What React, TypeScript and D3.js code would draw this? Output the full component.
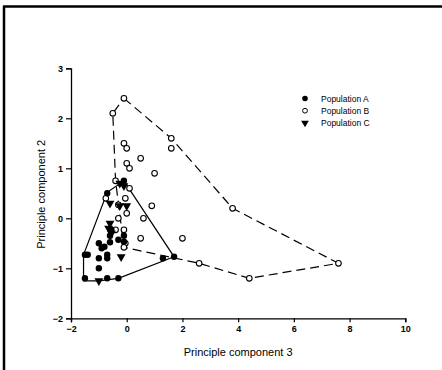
import React, { useEffect, useRef } from 'react';
import * as d3 from 'd3';

// values (PC3, PC2)
const popA: [number, number][] = [
  [-1.5, -1.2], [-1.5, -0.73], [-1.4, -0.73], [-1.0, -0.8], [-1.0, -1.0],
  [-0.7, -1.2], [-0.3, -1.2], [-0.7, -0.73], [-0.7, -0.8], [-1.0, -0.5],
  [-0.9, -0.6], [-0.8, -0.57], [-0.6, -0.48], [-0.6, -0.35], [-0.3, -0.43],
  [-0.1, -0.35], [-0.1, -0.47], [-0.7, 0.5], [-0.1, 0.75], [1.3, -0.8],
  [1.7, -0.77], [-0.55, -0.23]
];
const popB: [number, number][] = [
  [-0.1, 2.4], [-0.5, 2.1], [1.6, 1.6], [1.6, 1.4], [-0.1, 1.5], [0.0, 1.4],
  [0.5, 1.2], [0.0, 1.1], [0.1, 1.0], [1.0, 0.9], [-0.4, 0.75], [0.1, 0.6],
  [-0.75, 0.4], [-0.05, 0.4], [-0.3, 0.27], [0.9, 0.25], [0.0, 0.1], [-0.3, 0.0],
  [0.6, 0.0], [-0.4, -0.23], [-0.1, -0.23], [0.5, -0.4], [-0.05, -0.5],
  [-0.1, -0.58], [2.0, -0.4], [2.6, -0.9], [4.4, -1.2], [7.6, -0.9], [3.8, 0.2]
];
const popC: [number, number][] = [
  [-0.25, 0.7], [-0.1, 0.65], [-0.6, 0.3], [0.0, 0.25], [-0.25, 0.25],
  [-0.6, -0.1], [-0.65, -0.2], [-0.55, -0.3], [-0.2, -0.77], [-1.0, -1.25]
];
const hullA: [number, number][] = [
  [-1.55, -1.25], [-1.55, -0.73], [-0.7, 0.52], [-0.1, 0.75], [1.7, -0.77],
  [-0.3, -1.2], [-1.0, -1.25]
];
const hullB: [number, number][] = [
  [-0.1, 2.4], [1.6, 1.6], [3.8, 0.2], [7.6, -0.9], [4.4, -1.2], [2.6, -0.9],
  [-0.1, -0.58], [-0.4, 0.75], [-0.5, 2.1]
];
const xTicks = [-2, 0, 2, 4, 6, 8, 10];
const yTicks = [-2, -1, 0, 1, 2, 3];
const legendLabels = ['Population A', 'Population B', 'Population C'];

const W = 442;
const H = 370;
const font = 'Arial, "Liberation Sans", sans-serif';

const App: React.FC = () => {
  const svgRef = useRef<SVGSVGElement>(null);

  useEffect(() => {
    const svg = d3.select(svgRef.current);
    svg.selectAll('*').remove();

    const x = d3.scaleLinear().domain([-2, 10]).range([71, 405.3]);
    const y = d3.scaleLinear().domain([-2, 3]).range([318.3, 68.3]);

    svg.append('rect').attr('width', W).attr('height', H).attr('fill', '#fff');

    // frame of the scan
    svg.append('line').attr('x1', 3).attr('x2', W).attr('y1', 6.5).attr('y2', 6.5)
      .attr('stroke', '#000').attr('stroke-width', 2.5);
    svg.append('line').attr('x1', 4).attr('x2', 4).attr('y1', 6).attr('y2', H)
      .attr('stroke', '#000').attr('stroke-width', 2.5);

    // axes
    const xAxis = svg.append('g')
      .attr('transform', `translate(0,${y(-2)})`)
      .call(d3.axisBottom(x).tickValues(xTicks).tickSize(4).tickPadding(3).tickFormat(d3.format('d')));
    const yAxis = svg.append('g')
      .attr('transform', `translate(${x(-2)},0)`)
      .call(d3.axisLeft(y).tickValues(yTicks).tickSize(5).tickPadding(3).tickFormat(d3.format('d')));
    [xAxis, yAxis].forEach(a => {
      a.select('.domain').attr('stroke-width', 1.3);
      a.selectAll('.tick line').attr('stroke-width', 1.2);
      a.selectAll('.tick text')
        .style('font-family', font).style('font-size', '9px')
        .style('font-weight', 'bold').attr('fill', '#000');
    });

    const line = d3.line<[number, number]>().x(d => x(d[0])).y(d => y(d[1])).curve(d3.curveLinearClosed);

    svg.append('path').datum(hullB).attr('d', line).attr('fill', 'none')
      .attr('stroke', '#000').attr('stroke-width', 1.2).attr('stroke-dasharray', '9,5');
    svg.append('path').datum(hullA).attr('d', line).attr('fill', 'none')
      .attr('stroke', '#000').attr('stroke-width', 1.2);

    const tri = d3.symbol().type(d3.symbolTriangle).size(34);

    svg.append('g').selectAll('circle').data(popB).enter().append('circle')
      .attr('cx', d => x(d[0])).attr('cy', d => y(d[1])).attr('r', 2.8)
      .attr('fill', '#fff').attr('stroke', '#000').attr('stroke-width', 1.1);
    svg.append('g').selectAll('circle').data(popA).enter().append('circle')
      .attr('cx', d => x(d[0])).attr('cy', d => y(d[1])).attr('r', 3.2)
      .attr('fill', '#000');
    svg.append('g').selectAll('path').data(popC).enter().append('path')
      .attr('d', tri as any)
      .attr('transform', d => `translate(${x(d[0])},${y(d[1])}) rotate(180)`)
      .attr('fill', '#000');

    // legend
    const lg = svg.append('g').attr('transform', 'translate(305,98.5)');
    legendLabels.forEach((label, i) => {
      const row = lg.append('g').attr('transform', `translate(0,${i * 12.2})`);
      if (i === 0) row.append('circle').attr('r', 2.8).attr('fill', '#000');
      if (i === 1) row.append('circle').attr('r', 2.4).attr('fill', '#fff').attr('stroke', '#000').attr('stroke-width', 1);
      if (i === 2) row.append('path').attr('d', d3.symbol().type(d3.symbolTriangle).size(26)() as string)
        .attr('transform', 'rotate(180)').attr('fill', '#000');
      row.append('text').attr('x', 16).attr('y', 3)
        .style('font-family', font).style('font-size', '8.5px').attr('fill', '#000')
        .text(label);
    });

    // axis titles
    svg.append('text')
      .attr('transform', `translate(45,${(y(3) + y(-2)) / 2 + 1}) rotate(-90)`)
      .attr('text-anchor', 'middle')
      .style('font-family', font).style('font-size', '11px').attr('fill', '#000')
      .text('Principle component 2');
    svg.append('text')
      .attr('x', (x(-2) + x(10)) / 2).attr('y', 356)
      .attr('text-anchor', 'middle')
      .style('font-family', font).style('font-size', '11px').attr('fill', '#000')
      .text('Principle component 3');
  }, []);

  return (
    <svg ref={svgRef} width={W} height={H}
      style={{ position: 'absolute', left: 0, top: 0, display: 'block' }} />
  );
};

export default App;
